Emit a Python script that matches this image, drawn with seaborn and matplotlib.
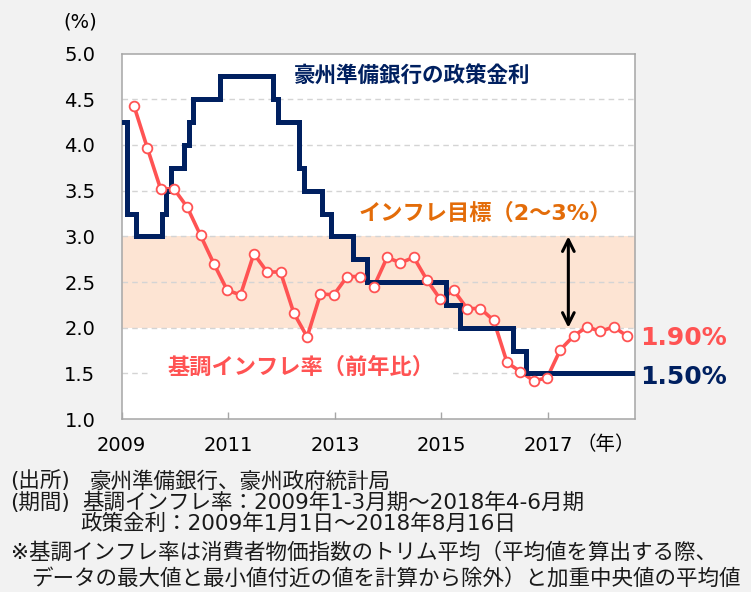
import pandas as pd
import matplotlib
matplotlib.use('Agg')
import matplotlib.pyplot as plt
import seaborn as sns

# Data
# core inflation (y/y, %), quarterly 2009Q1 - 2018Q2
infl_years = [2009] * 4 + [2010] * 4 + [2011] * 4 + [2012] * 4 + [2013] * 4 + \
             [2014] * 4 + [2015] * 4 + [2016] * 4 + [2017] * 4 + [2018] * 2
infl_quarters = [1, 2, 3, 4] * 9 + [1, 2]
inflation = [4.43, 3.97, 3.52, 3.52, 3.32, 3.01, 2.70, 2.41, 2.36, 2.81,
             2.61, 2.61, 2.16, 1.90, 2.37, 2.36, 2.56, 2.56, 2.45, 2.77,
             2.71, 2.77, 2.52, 2.31, 2.41, 2.21, 2.21, 2.08, 1.62, 1.52,
             1.42, 1.45, 1.76, 1.91, 2.01, 1.96, 2.01, 1.91]

# RBA cash rate target (change dates)
rate_dates = ['2009-01-01', '2009-02-04', '2009-04-08', '2009-10-07', '2009-11-04',
              '2009-12-02', '2010-03-03', '2010-04-07', '2010-05-05', '2010-11-03',
              '2011-11-02', '2011-12-07', '2012-05-02', '2012-06-06', '2012-10-03',
              '2012-12-05', '2013-05-08', '2013-08-07', '2015-02-04', '2015-05-06',
              '2016-05-04', '2016-08-03', '2018-08-16']
cash_rate = [4.25, 3.25, 3.00, 3.25, 3.50, 3.75, 4.00, 4.25, 4.50, 4.75, 4.50, 4.25,
             3.75, 3.50, 3.25, 3.00, 2.75, 2.50, 2.25, 2.00, 1.75, 1.50, 1.50]

x_ticks = [2009, 2011, 2013, 2015, 2017]
y_ticks = [1.0, 1.5, 2.0, 2.5, 3.0, 3.5, 4.0, 4.5, 5.0]

infl = pd.DataFrame({'year': infl_years, 'q': infl_quarters, 'value': inflation})
infl['x'] = infl['year'] + (infl['q'] - 1) * 0.25 + 0.23

d = pd.to_datetime(pd.Series(rate_dates))
rate = pd.DataFrame({'x': d.dt.year + (d.dt.dayofyear - 1) / (365 + d.dt.is_leap_year.astype(int)),
                     'value': cash_rate})

NAVY = '#002060'
RED = '#ff5353'
ORANGE = '#e36c09'

sns.set_theme(style='white')
plt.rcParams['font.family'] = ['DejaVu Sans', 'Noto Sans CJK JP']

fig = plt.figure(figsize=(7.51, 5.92), dpi=100, facecolor='#f2f2f2')
ax = fig.add_axes([0.162, 0.292, 0.6835, 0.6175])
ax.set_facecolor('white')

# target band and grid
ax.axhspan(2.0, 3.0, color='#fde4d3', zorder=0.5, lw=0)
for v in y_ticks[1:-1]:
    ax.axhline(v, color='#d4d4d4', lw=1, ls=(0, (4, 3)), zorder=1)

sns.lineplot(data=infl, x='x', y='value', color=RED, lw=2.6, ax=ax, zorder=3)
sns.lineplot(data=rate, x='x', y='value', color=NAVY, lw=3.6, ax=ax, zorder=4,
             drawstyle='steps-post', solid_joinstyle='miter')
ax.plot(infl['x'], infl['value'], ls='none', marker='o', ms=7, mfc='white',
        mec=RED, mew=1.3, zorder=5)

ax.set_xlim(2009, 2018.63)
ax.set_ylim(1.0, 5.0)
ax.set_xticks(x_ticks)
ax.set_yticks(y_ticks)
ax.set_yticklabels([f'{v:.1f}' for v in y_ticks])
ax.tick_params(axis='x', direction='in', length=5, width=1, color='#a6a6a6',
               labelsize=14, labelcolor='black', pad=12, bottom=True)
ax.tick_params(axis='y', length=0, labelsize=14, labelcolor='black', pad=19)
ax.set_xlabel('')
ax.set_ylabel('')
for s in ax.spines.values():
    s.set_color('#a6a6a6')
    s.set_linewidth(1.1)

# annotations
ax.text(2014.45, 4.75, '豪州準備銀行の政策金利', color=NAVY, fontsize=15.5,
        fontweight='bold', ha='center', va='center', zorder=6)
ax.text(2015.82, 3.25, 'インフレ目標（2〜3%）', color=ORANGE, fontsize=16,
        fontweight='bold', ha='center', va='center', zorder=6)
ax.text(2012.36, 1.57, '基調インフレ率（前年比）', color=RED, fontsize=16,
        fontweight='bold', ha='center', va='center', zorder=2,
        bbox=dict(boxstyle='square,pad=0.8', fc='white', ec='none'))
ax.annotate('', xy=(2017.38, 3.0), xytext=(2017.38, 2.0),
            arrowprops=dict(arrowstyle='<->,head_length=0.7,head_width=0.35',
                            color='black', lw=2.2, shrinkA=0, shrinkB=0), zorder=6)
ax.text(2018.73, 1.89, '1.90%', color=RED, fontsize=18, fontweight='bold',
        ha='left', va='center', clip_on=False)
ax.text(2018.73, 1.46, '1.50%', color=NAVY, fontsize=18, fontweight='bold',
        ha='left', va='center', clip_on=False)

fig.text(80 / 751, 1 - 22 / 592, '(%)', fontsize=14, color='black', ha='center', va='center')
fig.text(576 / 751, 1 - 445 / 592, '（年）', fontsize=14, color='black', ha='left', va='center')

# notes
note_color = '#1a1a1a'
fs = 15.5
fig.text(10 / 751, 1 - 481 / 592, '(出所)', fontsize=fs, color=note_color, va='center')
fig.text(90 / 751, 1 - 481 / 592, '豪州準備銀行、豪州政府統計局', fontsize=fs,
         color=note_color, va='center')
fig.text(10 / 751, 1 - 502.5 / 592, '(期間)', fontsize=fs, color=note_color, va='center')
fig.text(82 / 751, 1 - 502.5 / 592, '基調インフレ率：2009年1-3月期〜2018年4-6月期',
         fontsize=fs, color=note_color, va='center')
fig.text(80 / 751, 1 - 524 / 592, '政策金利：2009年1月1日〜2018年8月16日',
         fontsize=fs, color=note_color, va='center')
fig.text(11 / 751, 1 - 553 / 592,
         '※基調インフレ率は消費者物価指数のトリム平均（平均値を算出する際、',
         fontsize=fs, color=note_color, va='center')
fig.text(31 / 751, 1 - 578 / 592,
         'データの最大値と最小値付近の値を計算から除外）と加重中央値の平均値',
         fontsize=fs, color=note_color, va='center')

fig.savefig('out.png', dpi=100, facecolor=fig.get_facecolor())
